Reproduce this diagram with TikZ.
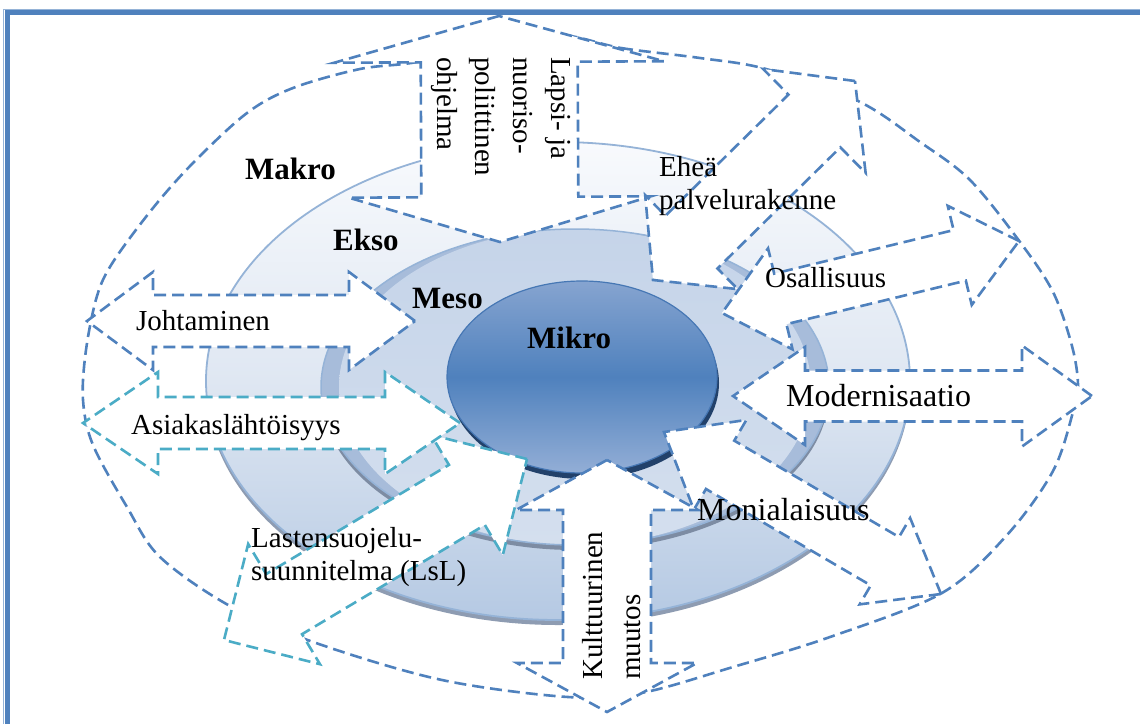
\documentclass[tikz,border=0pt]{standalone}
\usepackage{fontspec}
\setmainfont{Liberation Serif}
\usetikzlibrary{calc}

\definecolor{accent}{HTML}{4F81BD}
\definecolor{aqua}{HTML}{4BACC6}
\definecolor{ringline}{HTML}{95B3D7}
\definecolor{eksoT}{HTML}{F8FAFD}
\definecolor{eksoM}{HTML}{DFE7F2}
\definecolor{eksoB}{HTML}{B5C9E3}
\definecolor{eksoshadow}{HTML}{8E9CB2}
\definecolor{mesorim}{HTML}{A7BCDA}
\definecolor{mesoT}{HTML}{C5D4E9}
\definecolor{mesoB}{HTML}{D4DFEE}
\definecolor{mesoshadow}{HTML}{7D8CA3}
\definecolor{mikroT}{HTML}{86A4D0}
\definecolor{mikroB}{HTML}{93AED6}
\definecolor{mikrorim}{HTML}{22416A}
\definecolor{mikroline}{HTML}{4677B4}

% Double-headed block arrow between two tips.
% #1 name, #2 tip a, #3 tip b, #4 half shaft width,
% #5 half head width at a, #6 head length at a,
% #7 half head width at b, #8 head length at b, #9 style
\newcommand{\bidirarrow}[9]{%
  \coordinate (#1-a) at #2;
  \coordinate (#1-b) at #3;
  \coordinate (#1-ha) at ($(#1-a)!#6!(#1-b)$);
  \coordinate (#1-hb) at ($(#1-b)!#8!(#1-a)$);
  \draw[#9] (#1-a)
    -- ($(#1-ha)!#5!90:(#1-a)$)
    -- ($(#1-ha)!#4!90:(#1-a)$)
    -- ($(#1-hb)!#4!-90:(#1-b)$)
    -- ($(#1-hb)!#7!-90:(#1-b)$)
    -- (#1-b)
    -- ($(#1-hb)!#7!90:(#1-b)$)
    -- ($(#1-hb)!#4!90:(#1-b)$)
    -- ($(#1-ha)!#4!-90:(#1-a)$)
    -- ($(#1-ha)!#5!-90:(#1-a)$)
    -- cycle;
}

\begin{document}
\begin{tikzpicture}[x=1pt,y=-1pt,
  barrow/.style={draw=accent, fill=white, line width=2.6pt,
    dash pattern=on 12pt off 6pt, line join=miter},
  aarrow/.style={barrow, draw=aqua},
  bigcurve/.style={draw=accent, line width=2.6pt, dash pattern=on 12pt off 6pt},
  lbl/.style={inner sep=0pt, anchor=base west, font=\fontsize{29}{33}\selectfont},
  lblbig/.style={lbl, font=\fontsize{32}{36}\selectfont},
  lvl/.style={lbl, font=\fontsize{31}{35}\selectfont\bfseries}]

\useasboundingbox (0,0) rectangle (1140,724);
\fill[white] (0,0) rectangle (1140,724);

% page border
\draw[ringline, line width=1pt] (3,724) -- (3,9) -- (1140,9);
\draw[accent, line width=5.5pt] (7.5,724) -- (7.5,12.5) -- (1140,12.5);

% Ekso disk with its lower edge thickness
\fill[eksoshadow] (558,386) ellipse[x radius=352pt, y radius=239pt];
\shade[top color=eksoT, bottom color=eksoB, middle color=eksoM]
  (558,381) ellipse[x radius=352pt, y radius=239pt];
\draw[ringline, line width=1.8pt] (558,381) ellipse[x radius=352pt, y radius=239pt];

% Meso disk: side rim, face, outline
\fill[mesoshadow] (575,392) ellipse[x radius=254pt, y radius=158pt];
\fill[mesorim] (575,387) ellipse[x radius=254pt, y radius=158pt];
\shade[top color=mesoT, bottom color=mesoB]
  (575,387) ellipse[x radius=236pt, y radius=158pt];
\draw[ringline, line width=1.5pt] (575,387) ellipse[x radius=254pt, y radius=158pt];

% Mikro core
\fill[mikrorim] (584,383) ellipse[x radius=135pt, y radius=96pt];
\shade[top color=mikroT, bottom color=mikroB, middle color=accent]
  (582,377) ellipse[x radius=135pt, y radius=96pt];
\draw[mikroline, line width=1.2pt] (582,377) ellipse[x radius=135pt, y radius=96pt];

% large dashed loop around the whole model
\draw[bigcurve] plot[smooth cycle, tension=0.55] coordinates {
  (560,35) (621,48) (700,58) (766,69) (858,101) (920,142) (970,180)
  (1020,242) (1053,292) (1072,346) (1078,385) (1073,412) (1053,471)
  (1007,535) (942,593) (830,637) (733,667) (641,693) (568,697)
  (442,680) (316,643) (230,606) (160,557) (127,507) (93,445)
  (83,400) (86,350) (97,296) (113,262) (153,208) (193,163)
  (247,113) (293,88) (360,69) (417,62) (490,44)};

% block arrows
\bidirarrow{lsl}{(527,459)}{(224,640)}{35pt}{70pt}{70pt}{70pt}{70pt}{aarrow}
\bidirarrow{asiak}{(460,423)}{(83,423)}{26pt}{51pt}{75pt}{51pt}{75pt}{aarrow}
\bidirarrow{johto}{(415,321)}{(87,321)}{26pt}{49pt}{66pt}{49pt}{66pt}{barrow}
\bidirarrow{lapsi}{(499,16)}{(500,242)}{78.5pt}{165pt}{46pt}{151pt}{45pt}{barrow}
\bidirarrow{ehea}{(855,81)}{(653,280)}{37pt}{73pt}{57pt}{66pt}{54pt}{barrow}
\bidirarrow{osall}{(1019,241)}{(722,313)}{26pt}{51pt}{61pt}{52pt}{60pt}{barrow}
\bidirarrow{modern}{(1092,396)}{(733,396)}{25.5pt}{50.5pt}{70pt}{49pt}{72pt}{barrow}
\bidirarrow{monial}{(941,594)}{(664,432)}{28pt}{50pt}{65pt}{52pt}{65pt}{barrow}
\bidirarrow{kult}{(607,460)}{(607,712)}{44pt}{91pt}{50pt}{90pt}{49pt}{barrow}

% level names
\node[lvl] (makro) at (245,179) {Makro};
\node[lvl] (ekso) at (333,250) {Ekso};
\node[lvl] (meso) at (412,308) {Meso};
\node[lvl] (mikro) at (527,348) {Mikro};

% arrow captions
\node[lbl] (johtaminen) at (136,330) {Johtaminen};
\node[lbl] (asiakas) at (131,434) {Asiakaslähtöisyys};
\node[lbl] (lsl1) at (251,547) {Lastensuojelu-};
\node[lbl] (lsl2) at (251,580) {suunnitelma (LsL)};
\node[lbl] (ehea1) at (659,176) {Eheä};
\node[lbl] (ehea2) at (659,209) {palvelurakenne};
\node[lbl] (osallisuus) at (765,287) {Osallisuus};
\node[lblbig] (modernisaatio) at (786,406) {Modernisaatio};
\node[lblbig] (monialaisuus) at (697,520) {Monialaisuus};
\node[lbl, rotate=-90] (lapsi1) at (551,57) {Lapsi- ja};
\node[lbl, rotate=-90] (lapsi2) at (513,57) {nuoriso-};
\node[lbl, rotate=-90] (lapsi3) at (475,57) {poliittinen};
\node[lbl, rotate=-90] (lapsi4) at (437,57) {ohjelma};
\node[lbl, rotate=90] (kult1) at (602,680) {Kulttuurinen};
\node[lbl, rotate=90] (kult2) at (640,680) {muutos};
\end{tikzpicture}
\end{document}
